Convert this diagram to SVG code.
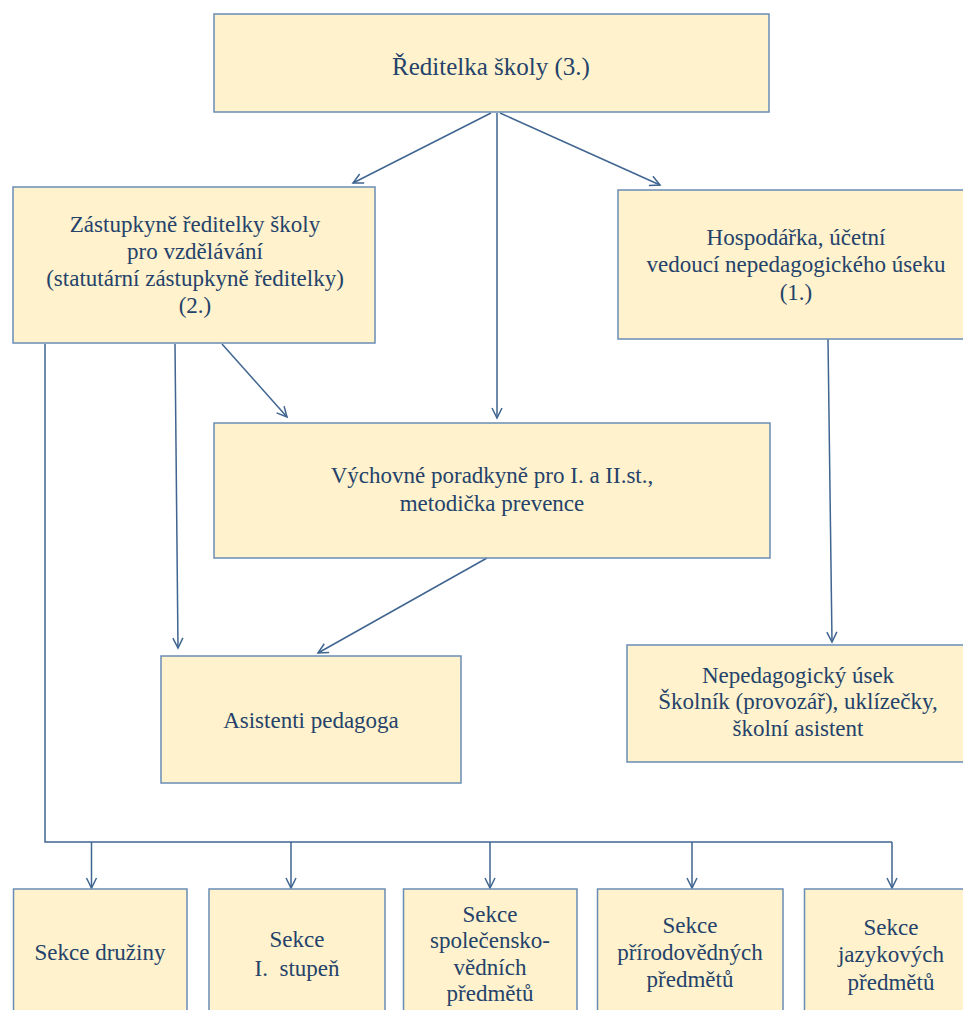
<svg xmlns="http://www.w3.org/2000/svg" width="963" height="1010" viewBox="0 0 963 1010">
<style>
.box{fill:#fff2cc;stroke:#6a8db5;stroke-width:1.5}
.t{font-family:'Liberation Serif', 'DejaVu Serif', serif;font-size:23px;fill:#24426a;text-anchor:middle}
.big{font-size:25px}
.c{fill:none;stroke:#3f6590;stroke-width:1.5}
.a{marker-end:url(#arr)}
</style>
<defs>
<marker id="arr" markerUnits="userSpaceOnUse" markerWidth="14" markerHeight="14" refX="11" refY="6" orient="auto" viewBox="0 0 14 12">
<path d="M1,1 L11,6 L1,11" fill="none" stroke="#3f6590" stroke-width="1.5"/>
</marker>
</defs>
<rect width="963" height="1010" fill="#ffffff"/>
<g id="connectors">
<line class="c a" x1="491" y1="113" x2="353" y2="183"/>
<line class="c a" x1="497" y1="113" x2="497" y2="418"/>
<line class="c a" x1="500" y1="113" x2="660" y2="185"/>
<line class="c a" x1="175" y1="344" x2="178" y2="648"/>
<line class="c a" x1="222" y1="344" x2="287" y2="417"/>
<polyline class="c" points="45,344 45,842 892,842"/>
<line class="c a" x1="91.5" y1="842" x2="91.5" y2="888"/>
<line class="c a" x1="291" y1="842" x2="291" y2="888"/>
<line class="c a" x1="490" y1="842" x2="490" y2="888"/>
<line class="c a" x1="692" y1="842" x2="692" y2="888"/>
<line class="c a" x1="892" y1="842" x2="892" y2="888"/>
<line class="c a" x1="487" y1="558" x2="318" y2="653"/>
<line class="c a" x1="828" y1="339" x2="832" y2="642"/>
</g>
<g id="n-reditelka">
<rect class="box" x="214" y="14" width="555" height="98"/>
<text class="t big" x="491" y="75">Ředitelka školy (3.)</text>
</g>
<g id="n-zastupkyne">
<rect class="box" x="13" y="187" width="362" height="156"/>
<text class="t" x="195" y="232">Zástupkyně ředitelky školy</text>
<text class="t" x="195" y="259">pro vzdělávání</text>
<text class="t" x="195" y="286">(statutární zástupkyně ředitelky)</text>
<text class="t" x="195" y="313">(2.)</text>
</g>
<g id="n-hospodarka">
<rect class="box" x="618" y="190" width="358" height="149"/>
<text class="t" x="796" y="245">Hospodářka, účetní</text>
<text class="t" x="796" y="272">vedoucí nepedagogického úseku</text>
<text class="t" x="796" y="300">(1.)</text>
</g>
<g id="n-vychovne">
<rect class="box" x="214" y="423" width="556" height="135"/>
<text class="t" x="492" y="483">Výchovné poradkyně pro I. a II.st.,</text>
<text class="t" x="492" y="511">metodička prevence</text>
</g>
<g id="n-asistenti">
<rect class="box" x="161" y="656" width="300" height="127"/>
<text class="t" x="311" y="728">Asistenti pedagoga</text>
</g>
<g id="n-nepedagogicky">
<rect class="box" x="627" y="645" width="345" height="117"/>
<text class="t" x="798" y="683">Nepedagogický úsek</text>
<text class="t" x="798" y="709">Školník (provozář), uklízečky,</text>
<text class="t" x="798" y="736">školní asistent</text>
</g>
<g id="n-druziny">
<rect class="box" x="13.5" y="889" width="173.5" height="140"/>
<text class="t" x="100" y="960">Sekce družiny</text>
</g>
<g id="n-stupen">
<rect class="box" x="209" y="889" width="176" height="140"/>
<text class="t" x="297" y="947">Sekce</text>
<text class="t" x="297" y="976" xml:space="preserve">I.  stupeň</text>
</g>
<g id="n-spolecensko">
<rect class="box" x="403.5" y="889" width="173.5" height="140"/>
<text class="t" x="490" y="922">Sekce</text>
<text class="t" x="490" y="948">společensko-</text>
<text class="t" x="490" y="975">vědních</text>
<text class="t" x="490" y="1001">předmětů</text>
</g>
<g id="n-prirodovednych">
<rect class="box" x="597.5" y="889" width="185.5" height="140"/>
<text class="t" x="690" y="933">Sekce</text>
<text class="t" x="690" y="960">přírodovědných</text>
<text class="t" x="690" y="987">předmětů</text>
</g>
<g id="n-jazykovych">
<rect class="box" x="804.5" y="889" width="172" height="140"/>
<text class="t" x="891" y="935">Sekce</text>
<text class="t" x="891" y="962">jazykových</text>
<text class="t" x="891" y="990">předmětů</text>
</g>
</svg>
